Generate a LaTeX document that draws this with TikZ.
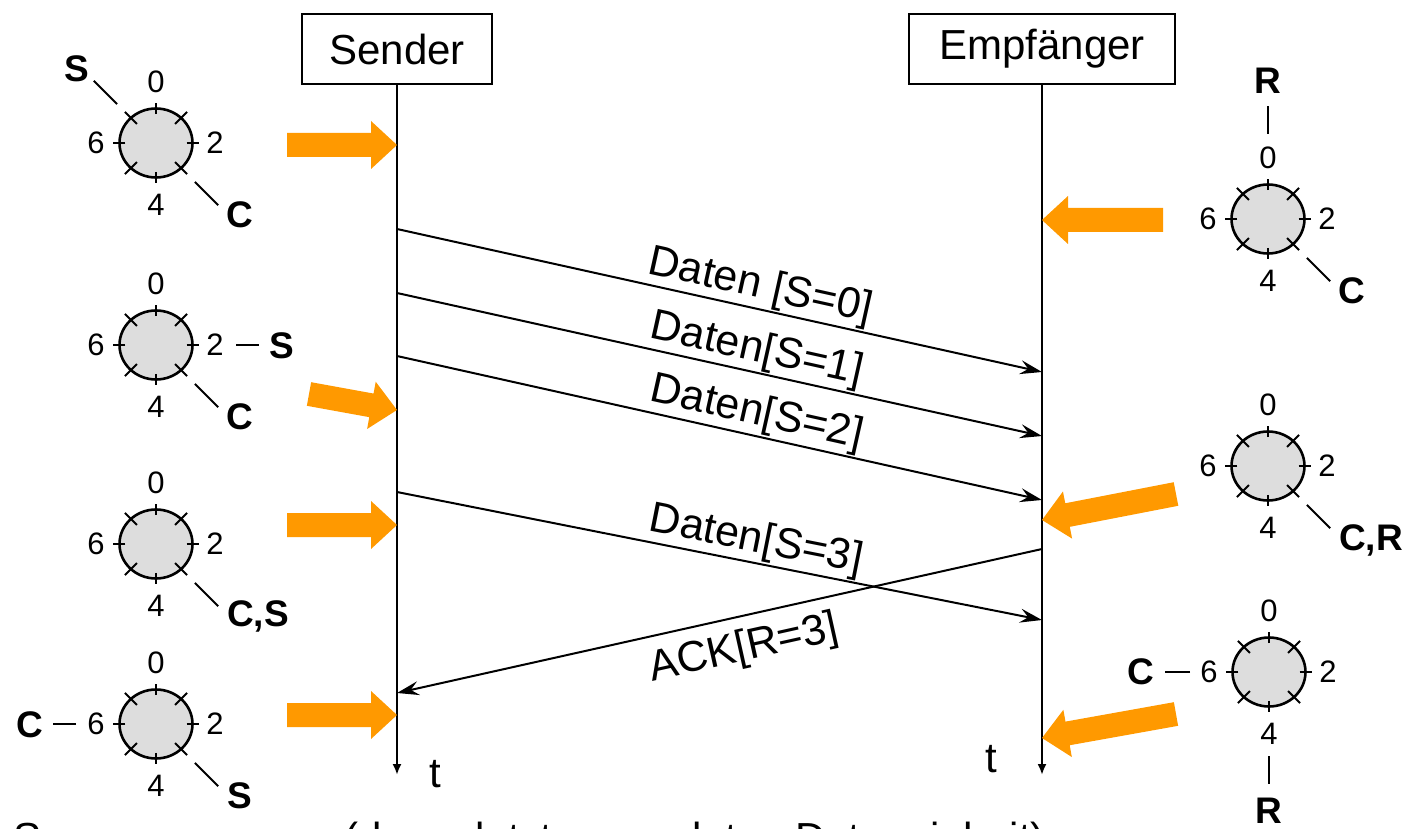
\documentclass[tikz,border=0pt]{standalone}
\usepackage{fontspec}
\setmainfont{Liberation Sans}
\usetikzlibrary{arrows.meta,calc,shapes.geometric}
\definecolor{flow}{RGB}{255,153,0}
\definecolor{dialfill}{RGB}{221,221,221}

% sequence-number dial with eight ticks and the labels 0,2,4,6
\newcommand{\seqdial}[3]{%
  \node[dial] (#1) at (#2,#3) {};
  \foreach \a in {0,90,180,270}
    \draw[tick] ($(#1.center)!0.84!(#1.\a)$) -- ($(#1.center)!1.17!(#1.\a)$);
  \foreach \a in {45,135,225,315}
    \draw[tick] ($(#1.center)!0.76!(#1.\a)$) -- ($(#1.center)!1.24!(#1.\a)$);
  \node[num] (#1-0) at ($(#1.center)+(0,-61)$) {0};
  \node[num] (#1-2) at ($(#1.center)+(59,0)$) {2};
  \node[num] (#1-4) at ($(#1.center)+(0,62)$) {4};
  \node[num] (#1-6) at ($(#1.center)+(-60,0)$) {6};
}

% thick orange block arrow from #1 (tail) to #2 (tip)
\newcommand{\flowarrow}[2]{%
  \coordinate (fa) at #1;
  \coordinate (fb) at #2;
  \coordinate (fc) at ($(fb)!26pt!(fa)$);
  \fill[flow] ($(fa)!12pt!90:(fb)$) -- ($(fc)!12pt!90:(fb)$) -- ($(fc)!24pt!90:(fb)$)
    -- (fb) -- ($(fc)!24pt!-90:(fb)$) -- ($(fc)!12pt!-90:(fb)$) -- ($(fa)!12pt!-90:(fb)$) -- cycle;
}

\begin{document}
\begin{tikzpicture}[x=1pt,y=-1pt,
  every node/.style={inner sep=0pt},
  actor/.style={draw, line width=2pt, minimum height=70pt, font=\fontsize{42}{48}\selectfont},
  life/.style={line width=2.5pt, -{Latex[length=11pt,width=9pt]}},
  msg/.style={line width=2pt, -{Stealth[length=22pt,width=14pt,inset=8pt]}},
  msglabel/.style={font=\fontsize{43}{48}\selectfont, sloped},
  dial/.style={ellipse, draw, line width=2.6pt, fill=dialfill, outer sep=0pt,
    minimum width=73pt, minimum height=69pt},
  num/.style={font=\fontsize{31}{36}\selectfont},
  tag/.style={font=\bfseries\fontsize{37}{42}\selectfont, text depth=0pt},
  tick/.style={line width=2pt},
  ptr/.style={line width=2pt},
]
\useasboundingbox (0,0) rectangle (1414,829);

% participants and lifelines
\node[actor, minimum width=190pt] (snd) at (397,49) {Sender};
\node[actor, minimum width=266pt] (rcv) at (1042,49) {Empfänger};
\coordinate (snd-end) at (397,775);
\coordinate (rcv-end) at (1042,775);
\draw[life] (snd.south) -- (snd-end);
\draw[life] (rcv.south) -- (rcv-end);
\node[font=\fontsize{42}{48}\selectfont] (snd-t) at (435,774) {t};
\node[font=\fontsize{42}{48}\selectfont] (rcv-t) at (991,759) {t};

% message end points on the lifelines
\coordinate (s1) at (397,229);  \coordinate (r1) at (1042,372);
\coordinate (s2) at (397,293);  \coordinate (r2) at (1042,436);
\coordinate (s3) at (397,356);  \coordinate (r3) at (1042,500);
\coordinate (s4) at (397,492);  \coordinate (r4) at (1042,620);
\coordinate (ra) at (1042,549); \coordinate (sa) at (397,693);

\draw[msg] (s1) -- node[msglabel, above=1pt, pos=0.556] (m1) {Daten [S=0]} (r1);
\draw[msg] (s2) -- node[msglabel, above=1pt, pos=0.55] (m2) {Daten[S=1]} (r2);
\draw[msg] (s3) -- node[msglabel, above=1pt, pos=0.55] (m3) {Daten[S=2]} (r3);
\draw[msg] (s4) -- node[msglabel, above=1pt, pos=0.55] (m4) {Daten[S=3]} (r4);
\draw[msg] (ra) -- node[msglabel, below=12pt, pos=0.473] (ack) {ACK[R=3]} (sa);

% events at the sender
\flowarrow{(287,145)}{(397,145)}
\flowarrow{(309,394)}{(397,410)}
\flowarrow{(287,525)}{(397,525)}
\flowarrow{(287,715)}{(397,715)}

% events at the receiver
\flowarrow{(1163,220)}{(1042,220)}
\flowarrow{(1176,494)}{(1042,520)}
\flowarrow{(1176,714)}{(1042,738)}

% sender dials
\seqdial{d1}{156}{143}
\draw[ptr] ($(d1.center)+(135:55pt)$) -- ($(d1.center)+(135:88pt)$);
\node[tag] (d1-s) at ($(d1.center)+(-79,-74)$) {S};
\draw[ptr] ($(d1.center)+(-45:55pt)$) -- ($(d1.center)+(-45:88pt)$);
\node[tag] (d1-c) at ($(d1.center)+(84,72)$) {C};

\seqdial{d2}{156}{345}
\draw[ptr] ($(d2.center)+(0:80pt)$) -- ($(d2.center)+(0:103pt)$);
\node[tag] (d2-s) at ($(d2.center)+(126,1)$) {S};
\draw[ptr] ($(d2.center)+(-45:55pt)$) -- ($(d2.center)+(-45:88pt)$);
\node[tag] (d2-c) at ($(d2.center)+(84,72)$) {C};

\seqdial{d3}{156}{544}
\draw[ptr] ($(d3.center)+(-45:55pt)$) -- ($(d3.center)+(-45:88pt)$);
\node[tag, anchor=west] (d3-cs) at ($(d3.center)+(71,70)$) {C,S};

\seqdial{d4}{156}{724}
\draw[ptr] ($(d4.center)+(180:80pt)$) -- ($(d4.center)+(180:103pt)$);
\node[tag] (d4-c) at ($(d4.center)+(-126,1)$) {C};
\draw[ptr] ($(d4.center)+(-45:55pt)$) -- ($(d4.center)+(-45:88pt)$);
\node[tag] (d4-s) at ($(d4.center)+(84,72)$) {S};

% receiver dials
\seqdial{e1}{1268}{219}
\draw[ptr] ($(e1.center)+(90:85pt)$) -- ($(e1.center)+(90:113pt)$);
\node[tag] (e1-r) at ($(e1.center)+(0,-138)$) {R};
\draw[ptr] ($(e1.center)+(-45:55pt)$) -- ($(e1.center)+(-45:88pt)$);
\node[tag] (e1-c) at ($(e1.center)+(84,72)$) {C};

\seqdial{e2}{1268}{466}
\draw[ptr] ($(e2.center)+(-45:55pt)$) -- ($(e2.center)+(-45:88pt)$);
\node[tag, anchor=west] (e2-cr) at ($(e2.center)+(71,72)$) {C,R};

\seqdial{e3}{1269}{672}
\draw[ptr] ($(e3.center)+(180:79pt)$) -- ($(e3.center)+(180:104pt)$);
\node[tag] (e3-c) at ($(e3.center)+(-128,0)$) {C};
\draw[ptr] ($(e3.center)+(-90:84pt)$) -- ($(e3.center)+(-90:112pt)$);
\node[tag] (e3-r) at ($(e3.center)+(0,139)$) {R};

% caption line below the diagram
\node[anchor=base west, font=\fontsize{42}{48}\selectfont] (caption) at (13,852)
  {Sequenznummer (der zuletzt gesendeten Dateneinheit)};
\end{tikzpicture}
\end{document}
